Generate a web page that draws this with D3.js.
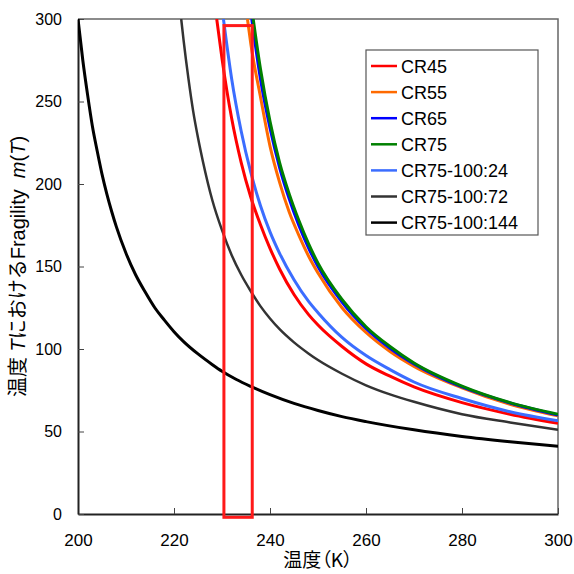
<!DOCTYPE html>
<html>
<head>
<meta charset="utf-8">
<script src="https://cdn.jsdelivr.net/npm/d3@7"></script>
<style>
  html, body { margin: 0; padding: 0; background: #ffffff; }
  svg { display: block; }
</style>
</head>
<body>
<script>
// values: [temperature K, fragility m(T)]
const cr45 = [[228.9, 300], [230, 276], [232, 240], [234, 213], [236, 192], [238, 175.5], [240, 161], [242, 148.5], [245, 133], [248, 121], [250, 114.5], [255, 101.5], [260, 91], [265, 83.5], [270, 77], [280, 67.5], [290, 60.5], [300, 55]];
const cr55 = [[235.3, 300], [236, 285], [238, 253], [240, 223], [242, 201], [244, 183], [246, 169], [248, 156.5], [250, 146], [255, 125], [260, 110], [265, 98.5], [270, 89.5], [280, 76.5], [290, 66.5], [300, 59.5]];
const cr65 = [[236.2, 300], [238, 264], [240, 234], [242, 210], [244, 191], [246, 175], [248, 161.5], [250, 150], [255, 128.5], [260, 112.5], [265, 100.5], [270, 91], [280, 77], [290, 67.3], [300, 60]];
const cr75 = [[236.5, 300], [238, 270], [240, 238], [242, 213], [244, 194], [246, 178], [248, 164], [250, 152], [255, 130], [260, 113.5], [265, 101.5], [270, 91.5], [280, 77.5], [290, 67.5], [300, 60.5]];
const cr75_24 = [[230.3, 300], [232, 264], [234, 232], [236, 207], [238, 187], [240, 171], [242, 158], [245, 142], [248, 129], [250, 122], [255, 107], [260, 96], [265, 87.5], [270, 80], [280, 70], [290, 62], [300, 56.5]];
const cr75_72 = [[221.5, 300], [222, 287], [223, 264], [224, 244], [225, 228], [226, 214], [228, 190], [230, 172], [232, 157], [234, 145], [236, 135], [238, 126], [240, 118.5], [242, 112], [245, 104], [248, 97.3], [250, 93.3], [255, 85], [260, 78], [265, 72.5], [270, 68], [280, 60.5], [290, 55.5], [300, 51]];
const cr75_144 = [[200, 300], [201, 275], [202, 254], [203, 235], [204, 220], [205, 206], [206, 194], [207, 183.5], [208, 174], [210, 158], [212, 145], [214, 134.5], [216, 125], [218, 117.5], [220, 110.5], [222, 104.5], [225, 97], [228, 90.5], [230, 86.5], [233, 81.5], [236, 77.3], [240, 72.3], [245, 67], [250, 62.7], [255, 59], [260, 56], [270, 51], [280, 47], [290, 43.8], [300, 41]];

const seriesNames = ['CR45', 'CR55', 'CR65', 'CR75', 'CR75-100:24', 'CR75-100:72', 'CR75-100:144'];
const seriesData = [cr45, cr55, cr65, cr75, cr75_24, cr75_72, cr75_144];
const seriesColors = ['#ff0000', '#ff6a00', '#0000ff', '#008000', '#3b6dff', '#333333', '#000000'];

const xTicks = [200, 220, 240, 260, 280, 300];
const yTicks = [0, 50, 100, 150, 200, 250, 300];

// highlighted window (red box)
const boxT = [230.4, 236.3];
const boxM = [-2, 296];

const width = 574;
const height = 574;
const margin = { top: 19, right: 16, bottom: 60, left: 78 };
const latin = '"Liberation Sans", Arial, "Noto Sans CJK JP", sans-serif';

const svg = d3.select('body').append('svg')
  .attr('width', width)
  .attr('height', height)
  .style('background', '#ffffff');

const x = d3.scaleLinear().domain([200, 300]).range([margin.left, width - margin.right]);
const y = d3.scaleLinear().domain([0, 300]).range([height - margin.bottom, margin.top]);

svg.append('defs').append('clipPath').attr('id', 'plot')
  .append('rect')
  .attr('x', x(200)).attr('y', y(300))
  .attr('width', x(300) - x(200)).attr('height', y(0) - y(300));

// frame: top and right
svg.append('path')
  .attr('d', `M${x(200)},${y(300)}H${x(300)}V${y(0)}`)
  .attr('fill', 'none')
  .attr('stroke', '#666')
  .attr('stroke-width', 1.5);

// axes with inward ticks
const xAxis = svg.append('g')
  .attr('transform', `translate(0,${y(0)})`)
  .call(d3.axisBottom(x).tickValues(xTicks).tickSizeInner(-6).tickSizeOuter(0).tickPadding(20));
const yAxis = svg.append('g')
  .attr('transform', `translate(${x(200)},0)`)
  .call(d3.axisLeft(y).tickValues(yTicks).tickSizeInner(-6).tickSizeOuter(0).tickPadding(16));

[xAxis, yAxis].forEach(g => {
  g.select('.domain').attr('stroke', '#222').attr('stroke-width', 2);
  g.selectAll('.tick line').attr('stroke', '#444').attr('stroke-width', 1);
  g.selectAll('.tick text')
    .attr('font-family', latin)
    .attr('fill', '#000');
});
xAxis.selectAll('.tick text').attr('font-size', 17);
yAxis.selectAll('.tick text').attr('font-size', 16);

// curves
const line = d3.line()
  .x(d => x(d[0]))
  .y(d => y(d[1]))
  .curve(d3.curveMonotoneX);

svg.append('g')
  .attr('clip-path', 'url(#plot)')
  .selectAll('path')
  .data(seriesData)
  .enter()
  .append('path')
  .attr('d', d => line(d))
  .attr('fill', 'none')
  .attr('stroke', (d, i) => seriesColors[i])
  .attr('stroke-width', (d, i) => i === 5 ? 2.5 : 3);

// red window
svg.append('rect')
  .attr('x', x(boxT[0]))
  .attr('y', y(boxM[1]))
  .attr('width', x(boxT[1]) - x(boxT[0]))
  .attr('height', y(boxM[0]) - y(boxM[1]))
  .attr('fill', 'none')
  .attr('stroke', '#ff1a1a')
  .attr('stroke-width', 3);

// legend
const legend = svg.append('g').attr('transform', 'translate(366,50)');
legend.append('rect')
  .attr('x', 0).attr('y', 0)
  .attr('width', 172).attr('height', 185)
  .attr('fill', '#ffffff')
  .attr('stroke', '#555')
  .attr('stroke-width', 1.2);

const items = legend.selectAll('g.item')
  .data(seriesNames)
  .enter()
  .append('g')
  .attr('class', 'item')
  .attr('transform', (d, i) => `translate(0,${16 + i * 26.1})`);

items.append('line')
  .attr('x1', 5).attr('x2', 31)
  .attr('y1', 0).attr('y2', 0)
  .attr('stroke', (d, i) => seriesColors[i])
  .attr('stroke-width', 2.5);

items.append('text')
  .attr('x', 35)
  .attr('y', 6.5)
  .attr('font-family', latin)
  .attr('font-size', 18)
  .attr('fill', '#000')
  .text(d => d);

// axis titles
svg.append('text')
  .attr('x', (x(200) + x(300)) / 2)
  .attr('y', 567)
  .attr('text-anchor', 'middle')
  .attr('font-family', '"Noto Sans CJK JP", sans-serif')
  .attr('font-size', 19)
  .style('font-feature-settings', '"palt"')
  .attr('fill', '#000')
  .text('温度（K）');

const yTitle = svg.append('text')
  .attr('transform', `translate(25,${(y(0) + y(300)) / 2}) rotate(-90)`)
  .attr('text-anchor', 'middle')
  .attr('font-family', latin)
  .attr('font-size', 20)
  .attr('fill', '#000');
yTitle.append('tspan').text('温度 ');
yTitle.append('tspan').attr('font-style', 'italic').text('T');
yTitle.append('tspan').text('におけるFragility\u00a0\u00a0');
yTitle.append('tspan').attr('font-style', 'italic').text('m');
yTitle.append('tspan').text('(');
yTitle.append('tspan').attr('font-style', 'italic').text('T');
yTitle.append('tspan').text(')');
</script>
</body>
</html>
